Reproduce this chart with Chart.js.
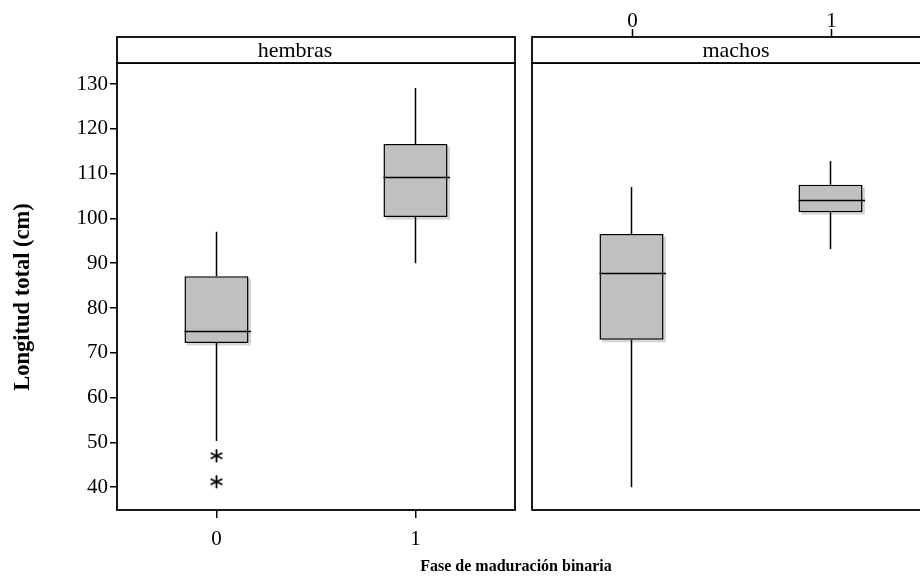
<!DOCTYPE html>
<html>
<head>
<meta charset="utf-8">
<script src="https://cdn.jsdelivr.net/npm/chart.js@4.4.1/dist/chart.umd.min.js"></script>
<style>
  html, body { margin: 0; padding: 0; background: #fff; overflow: hidden; width: 920px; height: 577px; }
  #wrapL { position: absolute; left: 0; top: 0; width: 523px; height: 577px; }
  #wrapR { position: absolute; left: 520px; top: 0; width: 410px; height: 577px; }
  #xtitle { position: absolute; left: 316px; width: 400px; top: 556px; text-align: center;
            font: bold 16px "Liberation Serif", "Times New Roman", serif; color: #000; line-height: 20px; }
</style>
</head>
<body>
<div id="wrapL"><canvas id="left" width="523" height="577"></canvas></div>
<div id="wrapR"><canvas id="right" width="410" height="577"></canvas></div>
<div id="xtitle">Fase de maduración binaria</div>
<script>
// Maturity phase categories (x axis)
const phases = ['0', '1'];
const yTicks = [40, 50, 60, 70, 80, 90, 100, 110, 120, 130];

// Total length (cm) box-plot summaries, females (hembras)
const femLow    = [50.3, 90.0];
const femQ1     = [72.2, 100.3];
const femMedian = [74.9, 109.2];
const femQ3     = [87.1, 116.6];
const femHigh   = [97.0, 129.1];
const femOutliers = [47.0, 41.2];   // extreme values in phase 0

// Total length (cm) box-plot summaries, males (machos)
const malLow    = [40.0, 93.2];
const malQ1     = [72.9, 101.4];
const malMedian = [87.8, 104.1];
const malQ3     = [96.5, 107.5];
const malHigh   = [107.0, 112.8];

const Y_MIN = 34.9, Y_MAX = 134.7;
const SERIF = '"Liberation Serif", "Times New Roman", serif';
const BOX_FILL = '#c0c0c0';
const SHADOW = '#d6d6d6';
const Y_TITLE = 'Longitud total (cm)';

// asterisk marker for outliers
function asteriskMarker() {
  const c = document.createElement('canvas');
  c.width = 15; c.height = 15;
  const g = c.getContext('2d');
  g.strokeStyle = '#000'; g.lineWidth = 1.8;
  const r = 6.5, cx = 7.5, cy = 7.5;
  [90, 25, 155].forEach(a => {
    const t = a * Math.PI / 180;
    g.beginPath();
    g.moveTo(cx - r * Math.cos(t), cy - r * Math.sin(t));
    g.lineTo(cx + r * Math.cos(t), cy + r * Math.sin(t));
    g.stroke();
  });
  return c;
}

// whiskers, shadows, medians, panel frame, strip and optional top axis
function panelPlugin(stripLabel, stripShift, low, median, high, topAxis, yTitle) {
  return {
    id: 'panel',
    beforeDatasetsDraw(chart) {
      const ctx = chart.ctx, ys = chart.scales.y;
      const meta = chart.getDatasetMeta(0);
      ctx.save();
      meta.data.forEach((bar, i) => {
        const p = bar.getProps(['x', 'y', 'base', 'width'], true);
        const l = p.x - p.width / 2;
        const top = Math.min(p.y, p.base), bot = Math.max(p.y, p.base);
        // soft drop shadow
        ctx.fillStyle = SHADOW;
        ctx.fillRect(l + 2.5, top + 2.5, p.width, bot - top);
        // whiskers
        ctx.strokeStyle = '#000'; ctx.lineWidth = 1.5;
        ctx.beginPath();
        ctx.moveTo(p.x, ys.getPixelForValue(high[i])); ctx.lineTo(p.x, top);
        ctx.moveTo(p.x, bot); ctx.lineTo(p.x, ys.getPixelForValue(low[i]));
        ctx.stroke();
      });
      ctx.restore();
    },
    afterDatasetsDraw(chart) {
      const ctx = chart.ctx, ys = chart.scales.y;
      const meta = chart.getDatasetMeta(0);
      ctx.save();
      ctx.strokeStyle = '#000'; ctx.lineWidth = 1.5;
      meta.data.forEach((bar, i) => {
        const p = bar.getProps(['x', 'width'], true);
        const y = Math.round(ys.getPixelForValue(median[i])) + 0.5;
        ctx.beginPath();
        ctx.moveTo(p.x - p.width / 2, y); ctx.lineTo(p.x + p.width / 2 + 2.5, y);
        ctx.stroke();
      });
      ctx.restore();
    },
    afterDraw(chart) {
      const ctx = chart.ctx, a = chart.chartArea, xs = chart.scales.x;
      const stripTop = 37;
      ctx.save();
      ctx.strokeStyle = '#000'; ctx.lineWidth = 1.8;
      ctx.strokeRect(a.left, a.top, a.right - a.left, a.bottom - a.top);
      ctx.fillStyle = '#fff';
      ctx.fillRect(a.left, stripTop, a.right - a.left, a.top - stripTop);
      ctx.strokeRect(a.left, stripTop, a.right - a.left, a.top - stripTop);
      ctx.fillStyle = '#000';
      ctx.font = '22px ' + SERIF;
      ctx.textAlign = 'center'; ctx.textBaseline = 'middle';
      ctx.fillText(stripLabel, (a.left + a.right) / 2 + stripShift, (stripTop + a.top) / 2 + 1);
      if (topAxis) {
        ctx.lineWidth = 1.5;
        ctx.font = '21px ' + SERIF;
        phases.forEach((lab, i) => {
          const x = Math.round(xs.getPixelForValue(i)) + 0.5;
          ctx.beginPath(); ctx.moveTo(x, stripTop); ctx.lineTo(x, stripTop - 8); ctx.stroke();
          ctx.fillText(lab, x, stripTop - 16);
        });
      }
      if (yTitle) {
        ctx.translate(23, 297);
        ctx.rotate(-Math.PI / 2);
        ctx.font = 'bold 22.5px ' + SERIF;
        ctx.fillText(yTitle, 0, 0);
      }
      ctx.restore();
    }
  };
}

function buildConfig(q1, q3, outliers, opts) {
  const datasets = [{
    type: 'bar',
    data: phases.map((c, i) => [q1[i], q3[i]]),
    backgroundColor: BOX_FILL,
    borderColor: '#000',
    borderWidth: 1.5,
    borderSkipped: false,
    categoryPercentage: 1,
    barPercentage: 0.322
  }];
  if (outliers.length) {
    datasets.push({
      type: 'scatter',
      data: outliers.map(v => ({ x: phases[0], y: v })),
      pointStyle: asteriskMarker(),
      pointRadius: 7,
      showLine: false
    });
  }
  return {
    type: 'bar',
    data: { labels: phases, datasets },
    options: {
      responsive: false,
      animation: false,
      events: [],
      layout: { padding: opts.padding },
      plugins: { legend: { display: false }, tooltip: { enabled: false }, title: { display: false } },
      scales: {
        x: {
          type: 'category',
          offset: true,
          display: opts.showX,
          grid: { display: true, offset: false, drawOnChartArea: false, drawTicks: true, tickLength: 8, color: '#000', lineWidth: 1.5 },
          border: { display: false },
          ticks: { color: '#000', font: { family: SERIF, size: 21 }, padding: 9 },
          afterFit(s) { if (opts.showX) s.height = 40; }
        },
        y: {
          type: 'linear',
          min: Y_MIN, max: Y_MAX,
          display: opts.showY,
          afterBuildTicks(s) { s.ticks = yTicks.map(v => ({ value: v })); },
          grid: { display: true, drawOnChartArea: false, drawTicks: true, tickLength: 7, color: '#000', lineWidth: 1.5 },
          border: { display: false },
          ticks: { color: '#000', font: { family: SERIF, size: 21 }, padding: 2 },
          afterFit(s) { if (opts.showY) s.width = 117 - opts.padding.left; }
        }
      }
    },
    plugins: [opts.plugin]
  };
}

new Chart(document.getElementById('left'), buildConfig(femQ1, femQ3, femOutliers, {
  padding: { left: 12, right: 5, top: 63, bottom: 27 },
  showX: true, showY: true,
  plugin: panelPlugin('hembras', -21, femLow, femMedian, femHigh, false, Y_TITLE)
}));

new Chart(document.getElementById('right'), buildConfig(malQ1, malQ3, [], {
  padding: { left: 12, right: 0, top: 63, bottom: 67 },
  showX: false, showY: false,
  plugin: panelPlugin('machos', 5, malLow, malMedian, malHigh, true, null)
}));
</script>
</body>
</html>
